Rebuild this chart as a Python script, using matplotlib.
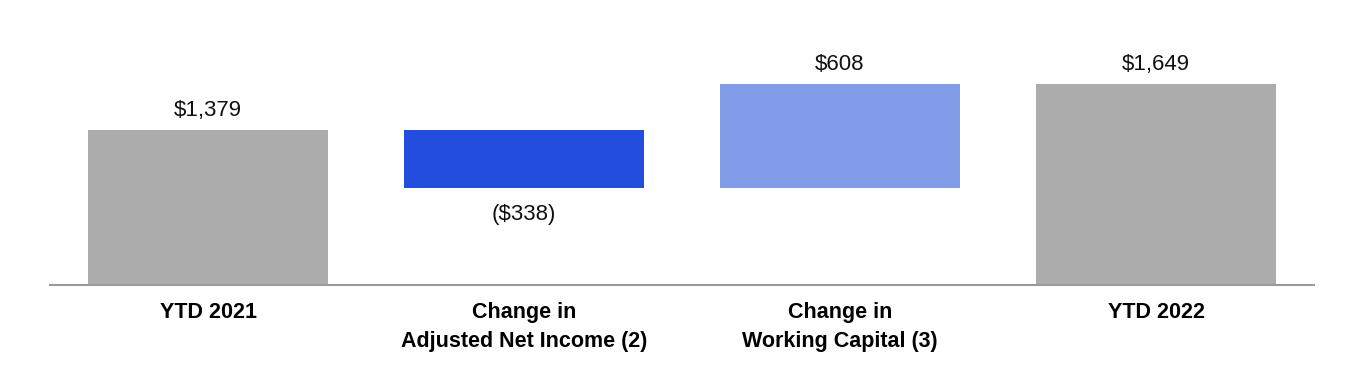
import matplotlib.pyplot as plt
import numpy as np

plt.rcParams['font.family'] = ['Liberation Sans', 'DejaVu Sans']

# waterfall data
categories = ['YTD 2021', 'Change in\nAdjusted Net Income (2)',
              'Change in\nWorking Capital (3)', 'YTD 2022']
values = [1379, -338, 608, 1649]
labels = ['$1,379', '($338)', '$608', '$1,649']
colors = ['#acacac', '#224ddd', '#819ce8', '#acacac']

y_min, y_max = 469, 2025

# bottoms / heights for the floating bars
bottoms, heights = [], []
running = values[0]
for i, v in enumerate(values):
    if i == 0 or i == len(values) - 1:
        bottoms.append(y_min)
        heights.append(v - y_min)
    else:
        start = running
        running += v
        bottoms.append(min(start, running))
        heights.append(abs(v))

fig = plt.figure(figsize=(13.64, 3.70), dpi=100)
ax = fig.add_axes([50 / 1364, 1 - 285 / 370, 1264 / 1364, 265 / 370])

x = np.arange(len(categories))
ax.bar(x, heights, bottom=bottoms, width=0.76, color=colors)

for i, v in enumerate(values):
    if v < 0:
        ax.annotate(labels[i], (x[i], bottoms[i]), xytext=(0, -19.5),
                    textcoords='offset points', ha='center', va='center',
                    fontsize=16, color='#111111')
    else:
        ax.annotate(labels[i], (x[i], bottoms[i] + heights[i]), xytext=(0, 14),
                    textcoords='offset points', ha='center', va='center',
                    fontsize=16, color='#111111')

ax.set_xlim(-0.5, 3.5)
ax.set_ylim(y_min, y_max)
ax.set_xticks(x)
ax.set_xticklabels(categories, fontsize=15.5, fontweight='bold', linespacing=1.45)
ax.tick_params(axis='x', length=0, pad=12.5)
ax.set_yticks([])
for s in ['top', 'right', 'left']:
    ax.spines[s].set_visible(False)
ax.spines['bottom'].set_color('#9a9a9a')
ax.spines['bottom'].set_linewidth(1.5)

fig.savefig('out.png', dpi=100)
